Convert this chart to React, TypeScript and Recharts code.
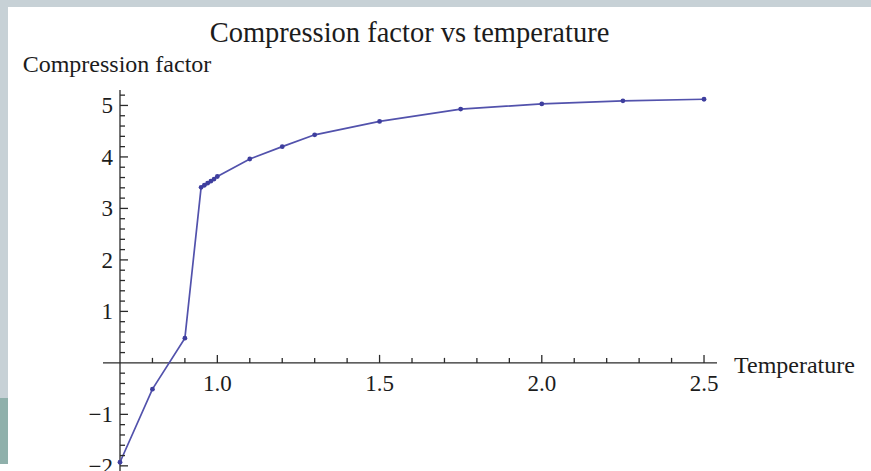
import React from 'react';
import { LineChart, Line, XAxis, YAxis, ReferenceLine, ReferenceDot } from 'recharts';

// ---- data ----
const temperature = [0.7, 0.8, 0.9, 0.95, 0.96, 0.97, 0.98, 0.99, 1.0, 1.1, 1.2, 1.3, 1.5, 1.75, 2.0, 2.25, 2.5];
const compression = [-1.93, -0.51, 0.48, 3.41, 3.45, 3.49, 3.53, 3.57, 3.62, 3.96, 4.2, 4.43, 4.69, 4.93, 5.03, 5.09, 5.12];

const xMajorTicks = [1.0, 1.5, 2.0, 2.5];
const xMajorLabels = ['1.0', '1.5', '2.0', '2.5'];
const xMinorTicks = [0.8, 0.9, 1.1, 1.2, 1.3, 1.4, 1.6, 1.7, 1.8, 1.9, 2.1, 2.2, 2.3, 2.4];

const yMajorTicks = [-2, -1, 1, 2, 3, 4, 5];
const yMajorLabels = ['\u22122', '\u22121', '1', '2', '3', '4', '5'];
const yMinorTicks = [
  -1.8, -1.6, -1.4, -1.2, -0.8, -0.6, -0.4, -0.2, 0.2, 0.4, 0.6, 0.8,
  1.2, 1.4, 1.6, 1.8, 2.2, 2.4, 2.6, 2.8, 3.2, 3.4, 3.6, 3.8, 4.2, 4.4, 4.6, 4.8, 5.2,
];

const xDomain = [0.6476, 2.54];
const yDomain = [-2.1, 5.3];
const axisOriginX = 0.7;
const axisOriginY = 0;

const title = 'Compression factor vs temperature';
const xLabel = 'Temperature';
const yLabel = 'Compression factor';

const data = temperature.map((t, i) => ({ t, z: compression[i] }));

// ---- styles ----
const FONT = '"Liberation Serif", "Times New Roman", serif';
const TEXT = '#1c1c1c';
const AXIS = '#2a2a2a';
const LINE = '#5252ac';
const DOT = '#3e3e9e';

const xTick = (label: string | null, len: number) => (props: any) => {
  const { cx, cy } = props;
  return (
    <g>
      <line x1={cx} x2={cx} y1={cy} y2={cy - len} stroke={AXIS} strokeWidth={1.3} />
      {label !== null && (
        <text x={cx} y={cy + 28} textAnchor="middle" fontFamily={FONT} fontSize={23} fill={TEXT}>
          {label}
        </text>
      )}
    </g>
  );
};

const yTick = (label: string | null, len: number) => (props: any) => {
  const { cx, cy } = props;
  return (
    <g>
      <line x1={cx} x2={cx + len} y1={cy} y2={cy} stroke={AXIS} strokeWidth={1.3} />
      {label !== null && (
        <text x={cx - 7} y={cy + 8} textAnchor="end" fontFamily={FONT} fontSize={23} fill={TEXT}>
          {label}
        </text>
      )}
    </g>
  );
};

export default function App() {
  return (
    <div style={{ position: 'absolute', left: 0, top: 0, width: 871, height: 471, background: '#ffffff', overflow: 'hidden' }}>
      {/* slide frame decorations */}
      <div style={{ position: 'absolute', left: 0, top: 0, width: 871, height: 7, background: '#c7d1d6' }} />
      <div style={{ position: 'absolute', left: 0, top: 0, width: 8, height: 398, background: '#c7d1d6' }} />
      <div style={{ position: 'absolute', left: 0, top: 398, width: 8, height: 66, background: '#8fb0ab' }} />

      <div style={{ position: 'absolute', left: 0, top: 0 }}>
        <LineChart width={871} height={471} data={data} margin={{ top: 90, right: 154, bottom: 0, left: 103 }}>
          <XAxis dataKey="t" type="number" domain={xDomain} allowDataOverflow hide />
          <YAxis type="number" domain={yDomain} allowDataOverflow hide />
          <ReferenceLine
            y={axisOriginY}
            stroke={AXIS}
            strokeWidth={1.3}
            label={{ value: xLabel, position: 'right', offset: 17, fill: TEXT, fontSize: 24, fontFamily: FONT, dy: 2 }}
          />
          <ReferenceLine
            x={axisOriginX}
            stroke={AXIS}
            strokeWidth={1.3}
            label={{ value: yLabel, position: 'top', offset: 18, fill: TEXT, fontSize: 24, fontFamily: FONT, dx: -3 }}
          />
          {xMinorTicks.map((v) => (
            <ReferenceDot key={'xm' + v} x={v} y={axisOriginY} shape={xTick(null, 5)} />
          ))}
          {xMajorTicks.map((v, i) => (
            <ReferenceDot key={'xM' + v} x={v} y={axisOriginY} shape={xTick(xMajorLabels[i], 8)} />
          ))}
          {yMinorTicks.map((v) => (
            <ReferenceDot key={'ym' + v} x={axisOriginX} y={v} shape={yTick(null, 5)} />
          ))}
          {yMajorTicks.map((v, i) => (
            <ReferenceDot key={'yM' + v} x={axisOriginX} y={v} shape={yTick(yMajorLabels[i], 8)} />
          ))}
          <Line
            type="linear"
            dataKey="z"
            stroke={LINE}
            strokeWidth={1.7}
            dot={{ r: 2.4, fill: DOT, stroke: 'none' }}
            isAnimationActive={false}
          />
        </LineChart>
      </div>

      <svg width={871} height={60} style={{ position: 'absolute', left: 0, top: 0, pointerEvents: 'none' }}>
        <text x={409.5} y={42} textAnchor="middle" fontFamily={FONT} fontSize={28.5} fill={TEXT}>
          {title}
        </text>
      </svg>
    </div>
  );
}
